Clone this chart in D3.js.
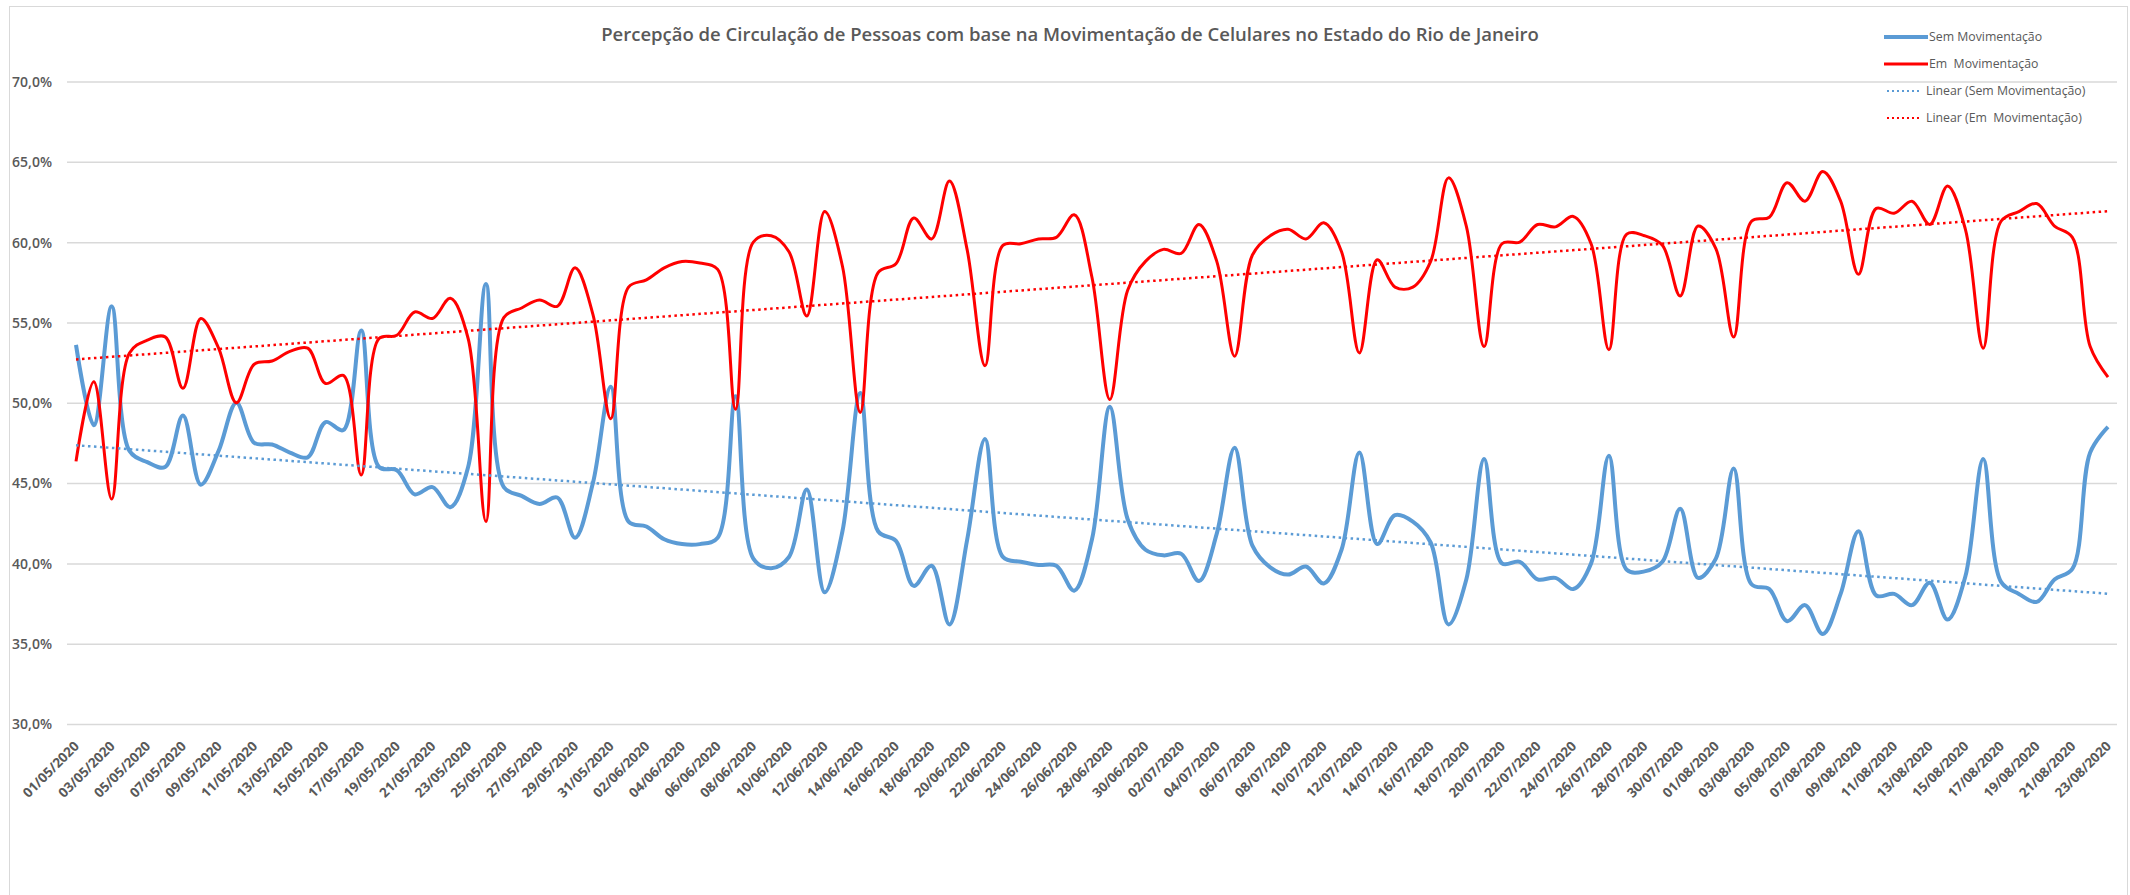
<!DOCTYPE html>
<html>
<head>
<meta charset="utf-8">
<script src="https://cdn.jsdelivr.net/npm/d3@7"></script>
<style>
  body { margin: 0; background: #fff; }
  svg text { font-family: "Open Sans", "Liberation Sans", sans-serif; fill: #595959; }
  .ylab text { font-weight: 600; font-size: 14px; }
  .xlab text { font-weight: 700; font-size: 13.5px; }
  .title { font-weight: 600; font-size: 18.5px; }
  .leg { font-size: 12.3px; white-space: pre; }
</style>
</head>
<body>
<svg width="2130" height="895"></svg>
<script>
// daily values 01/05/2020 .. 23/08/2020 (%)
const semMov = [
  53.6, 48.6, 56.0, 47.0, 46.3, 46.0, 49.2, 44.9, 47.0, 50.0,
  47.5, 47.4, 46.9, 46.6, 48.8, 48.3, 54.5, 46.0, 45.8, 44.3,
  44.75, 43.5, 46.0, 57.4, 44.75, 44.2, 43.7, 44.1, 41.6, 45.0,
  51.0, 42.6, 42.3, 41.5, 41.2, 41.2, 41.6, 50.4, 40.3, 39.7,
  40.4, 44.6, 38.2, 42.0, 50.6, 42.0, 41.4, 38.6, 39.85, 36.2,
  41.5, 47.75, 40.4, 40.1, 39.9, 39.85, 38.3, 41.5, 49.75, 42.75,
  40.85, 40.5, 40.6, 38.9, 41.85, 47.2, 41.1, 39.75, 39.3, 39.8,
  38.75, 40.85, 46.9, 41.2, 43.0, 42.6, 41.3, 36.2, 39.0, 46.5,
  40.0, 40.1, 39.0, 39.1, 38.4, 40.0, 46.7, 39.6, 39.5, 40.1,
  43.4, 39.1, 40.3, 45.9, 38.7, 38.4, 36.4, 37.4, 35.6, 38.1,
  42.0, 38.0, 38.1, 37.4, 38.8, 36.5, 39.2, 46.5, 38.85, 38.1,
  37.6, 39.0, 39.65, 46.9, 48.5
]
const emMov = [
  46.35, 51.3, 44.0, 53.1, 53.9, 54.1, 50.9, 55.25, 53.4, 50.0,
  52.4, 52.6, 53.2, 53.4, 51.2, 51.7, 45.5, 54.0, 54.2, 55.65,
  55.25, 56.5, 54.0, 42.6, 55.3, 55.9, 56.4, 56.0, 58.4, 55.5,
  49.0, 57.2, 57.65, 58.4, 58.8, 58.7, 58.3, 49.6, 60.0, 60.4,
  59.4, 55.4, 61.9, 58.5, 49.4, 58.1, 58.65, 61.5, 60.2, 63.8,
  59.5, 52.3, 59.8, 59.9, 60.2, 60.3, 61.7, 57.8, 50.2, 57.0,
  58.8, 59.55, 59.3, 61.1, 58.8, 52.9, 59.2, 60.4, 60.8, 60.2,
  61.2, 59.4, 53.1, 58.9, 57.2, 57.2, 58.8, 64.0, 61.0, 53.5,
  59.9, 60.0, 61.1, 60.95, 61.6, 59.9, 53.3, 60.5, 60.4, 59.8,
  56.65, 61.0, 59.6, 54.1, 61.3, 61.55, 63.7, 62.55, 64.4, 62.55,
  58.0, 62.1, 61.8, 62.55, 61.1, 63.5, 60.8, 53.4, 61.3, 61.9,
  62.4, 61.0, 60.3, 53.5, 51.6
]
const yTicks = [30, 35, 40, 45, 50, 55, 60, 65, 70]
const seriesNames = ['Sem Movimentação', 'Em  Movimentação']
const fmtDate = d3.timeFormat('%d/%m/%Y')
const dates = d3.timeDay.range(new Date(2020, 4, 1), new Date(2020, 7, 24)).map(fmtDate)

const blue = '#5b9bd5'
const red = '#ff0000'

const svg = d3.select('svg')

// chart border
svg.append('rect')
  .attr('x', 9.5).attr('y', 6.5)
  .attr('width', 2118).attr('height', 900)
  .attr('fill', 'none').attr('stroke', '#d9d9d9')

const left = 67, right = 2117
const x = d3.scalePoint().domain(dates).range([76, 2108])
const y = d3.scaleLinear().domain([30, 70]).range([724, 81.5])

const loc = d3.formatLocale({ decimal: ',', thousands: '.', grouping: [3], currency: ['R$', ''] })
const pct = loc.format('.1f')

svg.append('g')
  .attr('class', 'ylab')
  .attr('transform', `translate(${left},0)`)
  .call(d3.axisLeft(y).tickValues(yTicks).tickSize(-(right - left)).tickPadding(15)
    .tickFormat(d => pct(d) + '%'))
  .call(g => g.select('.domain').remove())
  .call(g => g.selectAll('line').attr('stroke', '#d9d9d9').attr('stroke-width', 1.5))
  .call(g => g.selectAll('text').attr('dy', '0.35em'))

// x labels, every 2nd day
const xLab = svg.append('g').attr('class', 'xlab')
xLab.selectAll('text')
  .data(dates.filter((d, i) => i % 2 === 0))
  .enter()
  .append('text')
  .attr('text-anchor', 'end')
  .attr('transform', d => `translate(${x(d) + 4},${747}) rotate(-45)`)
  .text(d => d)

// trend lines (least squares on day index)
function trend(vals) {
  const n = vals.length
  const mx = d3.mean(vals, (v, i) => i)
  const my = d3.mean(vals)
  let sxy = 0, sxx = 0
  vals.forEach((v, i) => { sxy += (i - mx) * (v - my); sxx += (i - mx) * (i - mx) })
  const b = sxy / sxx
  const a = my - b * mx
  return [[dates[0], a], [dates[n - 1], a + b * (n - 1)]]
}

const line = d3.line()
  .x((d, i) => x(dates[i]))
  .y(d => y(d))
  .curve(d3.curveCatmullRom.alpha(0.5))

svg.append('path').datum(semMov)
  .attr('d', line).attr('fill', 'none')
  .attr('stroke', blue).attr('stroke-width', 4).attr('stroke-linejoin', 'round')

svg.append('path').datum(emMov)
  .attr('d', line).attr('fill', 'none')
  .attr('stroke', red).attr('stroke-width', 3).attr('stroke-linejoin', 'round')

const tline = d3.line().x(d => x(d[0])).y(d => y(d[1]))
svg.append('path').datum(trend(semMov))
  .attr('d', tline).attr('fill', 'none')
  .attr('stroke', blue).attr('stroke-width', 2.5).attr('stroke-dasharray', '2.5,3.5')
svg.append('path').datum(trend(emMov))
  .attr('d', tline).attr('fill', 'none')
  .attr('stroke', red).attr('stroke-width', 2.5).attr('stroke-dasharray', '2.5,3.5')

// title
svg.append('text')
  .attr('class', 'title')
  .attr('x', 1070).attr('y', 41)
  .attr('text-anchor', 'middle')
  .text('Percepção de Circulação de Pessoas com base na Movimentação de Celulares no Estado do Rio de Janeiro')

// legend
const legItems = [
  { name: seriesNames[0], color: blue, w: 4, dash: null, y: 37 },
  { name: seriesNames[1], color: red, w: 3, dash: null, y: 64 },
  { name: 'Linear (' + seriesNames[0] + ')', color: blue, w: 2, dash: '2,3', y: 91 },
  { name: 'Linear (' + seriesNames[1] + ')', color: red, w: 2, dash: '2,3', y: 118 }
]
const leg = svg.append('g')
  .selectAll('g')
  .data(legItems)
  .enter()
  .append('g')
  .attr('transform', d => `translate(0,${d.y})`)

leg.append('line')
  .attr('x1', d => d.dash ? 1887 : 1884).attr('x2', d => d.dash ? 1921 : 1928)
  .attr('stroke', d => d.color).attr('stroke-width', d => d.w)
  .attr('stroke-dasharray', d => d.dash)

leg.append('text')
  .attr('class', 'leg')
  .attr('x', d => d.dash ? 1926 : 1929)
  .attr('dy', '0.35em')
  .text(d => d.name)
</script>
</body>
</html>
